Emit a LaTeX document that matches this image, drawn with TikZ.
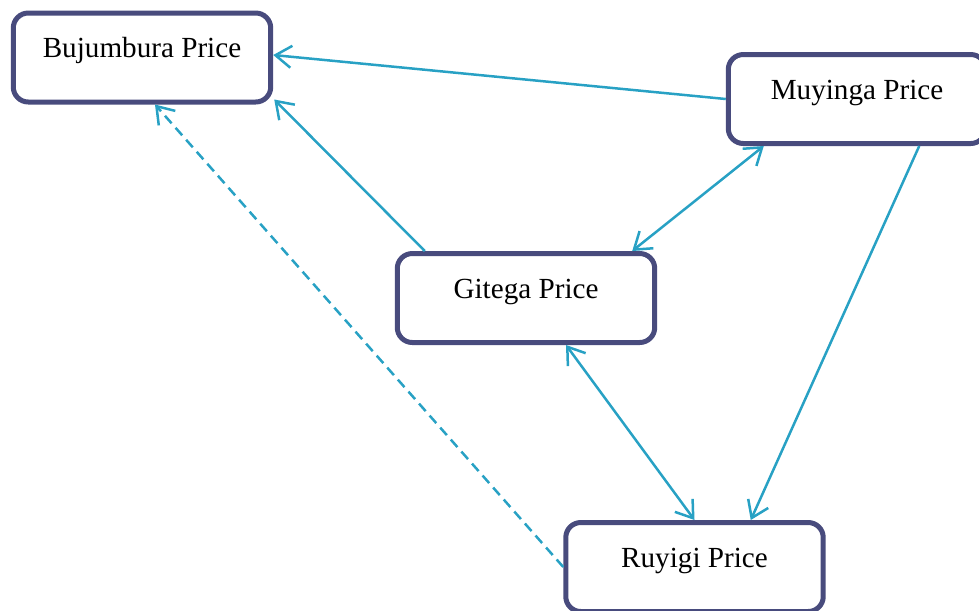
\documentclass[tikz,border=0pt]{standalone}
\usepackage{fontspec}
\setmainfont{Liberation Serif}
\usepackage{tikz}
\usetikzlibrary{positioning,calc,arrows.meta}
\definecolor{boxnavy}{RGB}{72,75,125}
\definecolor{arrowteal}{RGB}{40,161,196}

\tikzset{
	pricebox/.style={rectangle,draw=boxnavy,line width=0.1cm,rounded corners=0.3cm,fill=white,
		minimum width=5.15cm,minimum height=1.78cm,text height=0.35cm,text depth=0.35cm,
		font=\fontsize{16.6}{20}\selectfont},
	link/.style={arrowteal,line width=0.05cm,-{Straight Barb[length=0.32cm,width=0.44cm,line width=0.05cm]}},
	twolink/.style={link,{Straight Barb[length=0.32cm,width=0.44cm,line width=0.05cm]}-{Straight Barb[length=0.32cm,width=0.44cm,line width=0.05cm]}}
}

\begin{document}
\begin{tikzpicture}[x=0.02cm,y=-0.02cm]
		\useasboundingbox (0,0) rectangle (979,610);
		
		\node[pricebox] (B) at (142,57.5){Bujumbura Price};
		\node[pricebox] (M) at (857,99){Muyinga Price};
		\node[pricebox] (G) at (526,298){Gitega Price};
		\node[pricebox] (R) at (694.5,567){Ruyigi Price};
		
		\draw [link] (M.west) -- ([yshift=0.05cm]B.east);
		\draw [link] ([xshift=0.6cm]G.north west) -- ([xshift=0.02cm,yshift=0.1cm]B.south east);
		\draw [link,dashed,dash pattern=on 0.2cm off 0.12cm] (R.west) -- ([xshift=0.26cm]B.south);
		
		\draw [twolink] ([xshift=0.76cm]M.south west) -- ([xshift=-0.5cm]G.north east);
		\draw [twolink] ([xshift=0.8cm]G.south) -- (R.north);
		\draw [link] ([xshift=-1.38cm]M.south east) -- ([xshift=-1.5cm]R.north east);
		
\end{tikzpicture}
\end{document}
